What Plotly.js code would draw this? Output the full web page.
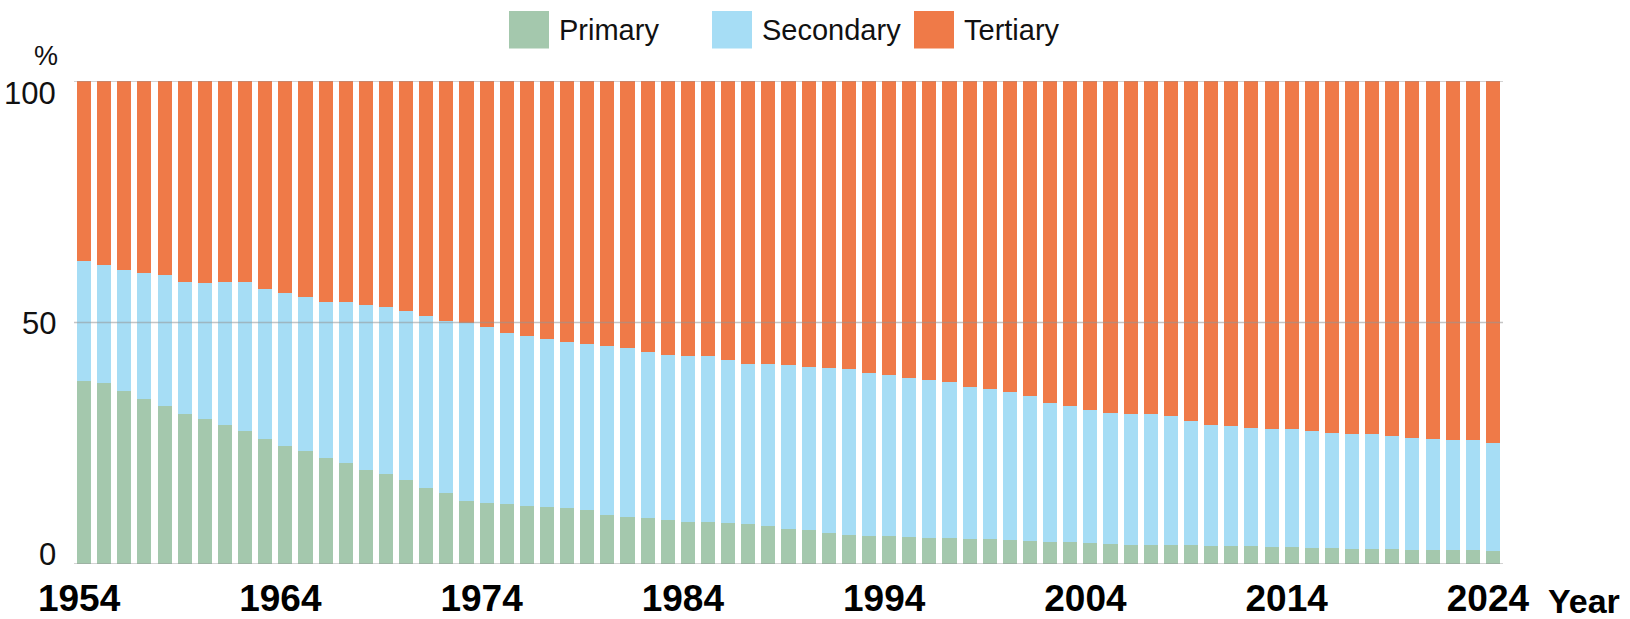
<!DOCTYPE html>
<html>
<head>
<meta charset="utf-8">
<script src="https://cdn.plot.ly/plotly-3.0.1.min.js"></script>
<style>html,body{margin:0;padding:0;background:#fff;}#chart{width:1630px;height:619px;}</style>
</head>
<body>
<div id="chart"></div>
<script>
const years = [1954,1955,1956,1957,1958,1959,1960,1961,1962,1963,1964,1965,1966,1967,1968,1969,1970,1971,1972,1973,1974,1975,1976,1977,1978,1979,1980,1981,1982,1983,1984,1985,1986,1987,1988,1989,1990,1991,1992,1993,1994,1995,1996,1997,1998,1999,2000,2001,2002,2003,2004,2005,2006,2007,2008,2009,2010,2011,2012,2013,2014,2015,2016,2017,2018,2019,2020,2021,2022,2023,2024];
const primary = [37.8,37.4,35.8,34.1,32.7,31.0,30.1,28.8,27.6,25.9,24.5,23.3,22.0,20.9,19.5,18.7,17.3,15.8,14.6,13.1,12.7,12.5,12.1,11.7,11.5,11.1,10.2,9.8,9.6,9.1,8.8,8.6,8.4,8.2,7.8,7.3,7.1,6.5,6.1,5.9,5.7,5.6,5.3,5.3,5.1,5.1,4.9,4.8,4.6,4.5,4.4,4.2,4.0,4.0,4.0,4.0,3.8,3.8,3.7,3.6,3.5,3.4,3.3,3.2,3.2,3.2,3.0,3.0,2.9,2.8,2.7];
const secondary = [24.9,24.5,25.0,26.2,27.1,27.4,28.0,29.5,30.8,31.1,31.6,32.0,32.3,33.4,34.1,34.5,35.1,35.5,35.8,36.7,36.4,35.3,35.2,34.8,34.5,34.4,34.9,34.9,34.3,34.2,34.2,34.4,33.9,33.3,33.7,33.9,33.6,34.0,34.2,33.7,33.4,32.9,32.7,32.4,31.6,31.1,30.7,29.9,28.8,28.3,27.4,27.1,27.1,27.0,26.6,25.6,25.0,24.8,24.5,24.4,24.4,24.2,23.9,23.8,23.7,23.2,23.1,22.9,22.7,22.8,22.4];
const tertiary = [37.3,38.1,39.2,39.7,40.2,41.6,41.9,41.7,41.6,43.0,43.9,44.7,45.7,45.7,46.4,46.8,47.6,48.7,49.6,50.2,50.9,52.2,52.7,53.5,54.0,54.5,54.9,55.3,56.1,56.7,57.0,57.0,57.7,58.5,58.5,58.8,59.3,59.5,59.7,60.4,60.9,61.5,62.0,62.3,63.3,63.8,64.4,65.3,66.6,67.2,68.2,68.7,68.9,69.0,69.4,70.4,71.2,71.4,71.8,72.0,72.1,72.4,72.8,73.0,73.1,73.6,73.9,74.1,74.4,74.4,74.9];
const seriesNames = ["Primary","Secondary","Tertiary"];
const xTickVals = [1954,1964,1974,1984,1994,2004,2014,2024];
const xTickText = ["1954","1964","1974","1984","1994","2004","2014","2024"];
const yTickVals = [0,50,100];
const yTickText = ["0","50","100"];

const colors = ["#A4C8AD","#A6DDF5","#EF7A48"];

const baseFont = "Liberation Sans, Arial, sans-serif";
const boldFont = {family: baseFont, size: 37, color: "#000", weight: "bold"};

// plot-area geometry (px)
const W = 1630, H = 619;
const M = {l: 74, r: 127, t: 81, b: 55};
const pw = W - M.l - M.r, ph = H - M.t - M.b;
const px2x = p => (p - M.l) / pw;
const px2y = p => (H - M.b - p) / ph;

const values = [primary, secondary, tertiary];
const traces = values.map((v, i) => ({
  type: "bar", x: years, y: v, name: seriesNames[i],
  marker: {color: colors[i], line: {width: 0}},
  hoverinfo: "x+y+name", showlegend: false
}));

const shapes = [];
const annotations = [];

// gridlines drawn above bars
yTickVals.forEach(v => {
  shapes.push({type: "line", xref: "paper", yref: "y", x0: 0, x1: 1, y0: v, y1: v,
    line: {color: "rgba(150,150,150,0.55)", width: 1.6}, layer: "above"});
});

// y tick labels (clamped inside the plot like the source)
const yMax = Math.max(...yTickVals), yMin = Math.min(...yTickVals);
yTickVals.forEach((v, i) => {
  annotations.push({xref: "paper", yref: "y", x: px2x(58), y: v, text: yTickText[i],
    showarrow: false, xanchor: "right",
    yanchor: v === yMax ? "top" : (v === yMin ? "bottom" : "middle"),
    yshift: v === yMax ? 7 : (v === yMin ? -10 : -1),
    font: {family: baseFont, size: 31, color: "#111"}});
});

// unit label
annotations.push({xref: "paper", yref: "paper", x: px2x(46), y: px2y(56), text: "%",
  showarrow: false, xanchor: "center", yanchor: "middle",
  font: {family: baseFont, size: 27, color: "#111"}});

// axis name
annotations.push({xref: "paper", yref: "paper", x: px2x(1584), y: px2y(601), text: "Year",
  showarrow: false, xanchor: "center", yanchor: "middle", borderpad: 0, borderwidth: 0,
  font: {family: baseFont, size: 34, color: "#000", weight: "bold"}});

// legend
const legendBoxX = [509, 712, 914];
legendBoxX.forEach((bx, i) => {
  shapes.push({type: "rect", xref: "paper", yref: "paper",
    x0: px2x(bx), x1: px2x(bx + 40), y0: px2y(48.5), y1: px2y(11),
    fillcolor: colors[i], line: {width: 0}});
  annotations.push({xref: "paper", yref: "paper", x: px2x(bx + 48), y: px2y(30),
    text: seriesNames[i], showarrow: false, xanchor: "left", yanchor: "middle",
    font: {family: baseFont, size: 29, color: "#111"}});
});

const layout = {
  width: W, height: H,
  margin: M,
  paper_bgcolor: "#fff", plot_bgcolor: "#fff",
  barmode: "stack", bargap: 0.3,
  showlegend: false,
  xaxis: {
    range: [1953.5, 2024.5], tickmode: "array", tickvals: xTickVals, ticktext: xTickText,
    showgrid: false, zeroline: false, showline: false, ticks: "",
    tickfont: boldFont, ticklabelshift: -5, ticklabelstandoff: 9, fixedrange: true
  },
  yaxis: {
    range: [0, 100], showticklabels: false, showgrid: false, zeroline: false,
    showline: false, ticks: "", fixedrange: true
  },
  shapes: shapes,
  annotations: annotations,
  font: {family: baseFont}
};

Plotly.newPlot("chart", traces, layout, {displayModeBar: false, staticPlot: true});
</script>
</body>
</html>
